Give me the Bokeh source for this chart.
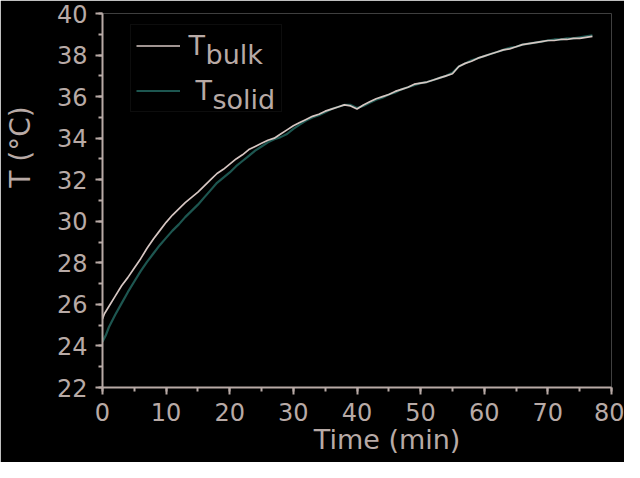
from bokeh.plotting import figure
from bokeh.models import (Range1d, SingleIntervalTicker, Legend, LegendItem, Label, ColumnDataSource)
from bokeh.embed import file_html
from bokeh.resources import INLINE

# ---- data ----
t_bulk = [0, 0.3, 1, 2, 3, 4, 5, 6, 7, 8, 9, 10, 11, 12, 13, 14, 15, 16, 17, 18, 19, 20,
          21, 22, 23, 24, 25, 26, 27, 28, 29, 30, 31, 32, 33, 34, 35, 36, 37, 38, 39, 40,
          41, 42, 43, 44, 45, 46, 47, 48, 49, 50, 51, 52, 53, 54, 55, 56, 57, 58, 59, 60,
          61, 62, 63, 64, 65, 66, 67, 68, 69, 70, 71, 72, 73, 74, 75, 76, 77]
T_bulk = [25.3, 25.55, 25.9, 26.4, 26.9, 27.3, 27.75, 28.2, 28.7, 29.15, 29.55, 29.95,
          30.3, 30.6, 30.9, 31.15, 31.4, 31.7, 32.0, 32.3, 32.5, 32.75,
          33.0, 33.2, 33.45, 33.6, 33.75, 33.9, 34.0, 34.2, 34.4, 34.6,
          34.75, 34.9, 35.05, 35.15, 35.3, 35.4, 35.5, 35.6, 35.55, 35.4,
          35.6, 35.75, 35.9, 36.0, 36.1, 36.25, 36.35, 36.45, 36.6, 36.65,
          36.7, 36.8, 36.9, 37.0, 37.1, 37.45, 37.6, 37.7, 37.85, 37.95,
          38.05, 38.15, 38.25, 38.3, 38.4, 38.5, 38.55, 38.6, 38.65, 38.7,
          38.7, 38.75, 38.75, 38.8, 38.8, 38.85, 38.9]

t_solid = [0, 0.5, 1, 2, 3, 4, 5, 6, 7, 8, 9, 10, 11, 12, 13, 14, 15, 16, 17, 18, 19, 20,
           21, 22, 23, 24, 25, 26, 27, 28, 29, 30, 31, 32, 33, 34, 35, 36, 37, 38, 39, 40,
           41, 42, 43, 44, 45, 46, 47, 48, 49, 50, 51, 52, 53, 54, 55, 56, 57, 58, 59, 60,
           61, 62, 63, 64, 65, 66, 67, 68, 69, 70, 71, 72, 73, 74, 75, 76, 77]
T_solid = [24.2, 24.5, 24.9, 25.5, 26.05, 26.6, 27.1, 27.6, 28.05, 28.45, 28.85, 29.2,
           29.55, 29.85, 30.2, 30.5, 30.8, 31.15, 31.5, 31.85, 32.1, 32.35,
           32.65, 32.9, 33.15, 33.4, 33.6, 33.8, 33.95, 34.05, 34.2, 34.45,
           34.65, 34.85, 35.0, 35.1, 35.25, 35.4, 35.5, 35.6, 35.6, 35.45,
           35.55, 35.7, 35.85, 35.95, 36.1, 36.2, 36.35, 36.45, 36.55, 36.65,
           36.7, 36.8, 36.9, 37.0, 37.15, 37.45, 37.6, 37.75, 37.85, 37.95,
           38.05, 38.15, 38.25, 38.35, 38.4, 38.5, 38.55, 38.6, 38.65, 38.7,
           38.75, 38.75, 38.8, 38.8, 38.85, 38.9, 38.95]

x_label = "Time (min)"
y_label = "T (°C)"
legend_main = ["T", "T"]
legend_sub = ["bulk", "solid"]

# ---- styling ----
AX = "#b8aaa6"
BULK = "#d6c6c2"
SOLID = "#1d5650"
FONT = "DejaVu Sans"
NB = "\u00a0"

p = figure(width=624, height=462, output_backend="svg", toolbar_location=None,
           x_range=Range1d(0, 80), y_range=Range1d(22, 40))
p.min_border_left = 97
p.min_border_right = 13
p.min_border_top = 13
p.min_border_bottom = 75
p.background_fill_color = "black"
p.border_fill_color = "black"
p.outline_line_color = None
p.xgrid.grid_line_color = None
p.ygrid.grid_line_color = None

p.xaxis.ticker = SingleIntervalTicker(interval=10, num_minor_ticks=2)
p.yaxis.ticker = SingleIntervalTicker(interval=2, num_minor_ticks=2)

for ax in (p.xaxis, p.yaxis):
    ax.axis_line_color = AX
    ax.axis_line_width = 2
    ax.major_tick_line_color = AX
    ax.major_tick_line_width = 2
    ax.minor_tick_line_color = AX
    ax.minor_tick_line_width = 2
    ax.major_tick_out = 7
    ax.major_tick_in = 0
    ax.minor_tick_out = 4
    ax.minor_tick_in = 0
    ax.major_label_text_color = AX
    ax.major_label_text_font = FONT
    ax.major_label_text_font_size = "24px"
    ax.axis_label_text_color = AX
    ax.axis_label_text_font = FONT
    ax.axis_label_text_font_style = "normal"

p.xaxis.major_label_standoff = 8
p.yaxis.major_label_standoff = 8

# axis titles sit off-centre in the reference: pad with no-break spaces
p.xaxis.axis_label = NB * 7 + x_label
p.xaxis.axis_label_text_font_size = "27px"
p.xaxis.axis_label_standoff = 0
p.yaxis.axis_label = NB * 12 + y_label
p.yaxis.axis_label_text_font_size = "28px"
p.yaxis.axis_label_standoff = 17

src_s = ColumnDataSource(dict(t=t_solid, T=T_solid))
src_b = ColumnDataSource(dict(t=t_bulk, T=T_bulk))
r_solid = p.line("t", "T", source=src_s, line_color=SOLID, line_width=2.2)
r_bulk = p.line("t", "T", source=src_b, line_color=BULK, line_width=1.7)

legend = Legend(items=[LegendItem(label="", renderers=[r_bulk]),
                       LegendItem(label="", renderers=[r_solid])],
                location=(28, 275))
legend.background_fill_alpha = 0
legend.border_line_color = "#1a1a1a"
legend.border_line_width = 1
legend.padding = 5
legend.spacing = 14
legend.glyph_width = 44
legend.glyph_height = 31
legend.label_height = 31
legend.label_width = 96
legend.label_standoff = 0
legend.label_text_font = FONT
legend.label_text_font_size = "26px"
legend.label_text_color = AX
legend.margin = 0
p.add_layout(legend, "center")

# legend texts: main letter and subscript (frame-relative screen positions)
main_pos = [(86, 342), (93, 297)]
sub_pos = [(103, 333), (110, 288)]
for txt, (sx, sy) in zip(legend_main, main_pos):
    p.add_layout(Label(x=sx, y=sy, x_units="screen", y_units="screen", text=txt,
                       text_font=FONT, text_font_size="27px", text_color=AX,
                       text_baseline="alphabetic", text_align="left"))
for txt, (sx, sy) in zip(legend_sub, sub_pos):
    p.add_layout(Label(x=sx, y=sy, x_units="screen", y_units="screen", text=txt,
                       text_font=FONT, text_font_size="27px", text_color=AX,
                       text_baseline="alphabetic", text_align="left"))

open("out.html", "w").write(file_html(p, INLINE))
